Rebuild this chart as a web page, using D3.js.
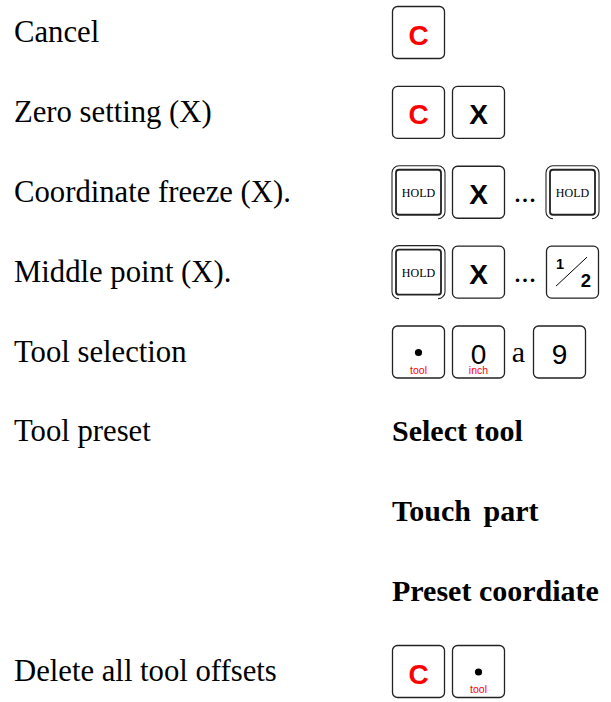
<!DOCTYPE html>
<html><head><meta charset="utf-8">
<script src="https://cdn.jsdelivr.net/npm/d3@7"></script>
<style>body{margin:0;background:#fff}svg{display:block}</style>
</head><body><svg id="c" width="611" height="702"></svg>
<script>
// ---- data ----
const rowLabels = ["Cancel","Zero setting (X)","Coordinate freeze (X).","Middle point (X).","Tool selection","Tool preset","","","Delete all tool offsets"];
const rowKeys = [
  ["C"],
  ["C","X"],
  ["HOLD","X","...","HOLD"],
  ["HOLD","X","...","1/2"],
  ["•","0","a","9"],
  [],[],[],
  ["C","•"]
];
const stepTexts = ["","","","","","Select tool","Touch part","Preset coordiate",""];
const keySubLabels = {"•":"tool","0":"inch"};
const redKeys = ["C"];
const boldKeys = ["C","X"];
const separators = ["...","a"];

// ---- layout ----
const W = 611, H = 702;
const svg = d3.select("#c");
svg.append("rect").attr("width",W).attr("height",H).attr("fill","#fff");
const y = d3.scaleLinear().domain([0, rowLabels.length-1]).range([42, 681]);
const serif = "'Liberation Serif','Times New Roman',serif";
const sans = "'Liberation Sans',Arial,sans-serif";
const keyW = 52, keyH = 52, gap = 8, sepW = {"...":26, "a":13};
const keyX0 = 392, labelX = 14;
const RED = "#ff0000";

const rows = svg.selectAll("g.row").data(rowLabels.map((l,i)=>({label:l,keys:rowKeys[i],step:stepTexts[i],i})))
  .join("g").attr("class","row");

rows.append("text").attr("x",labelX).attr("y",d=>y(d.i))
  .attr("font-family",serif).attr("font-size",30.7).attr("fill","#000")
  .text(d=>d.label);

rows.append("text").attr("x",keyX0).attr("y",d=>y(d.i))
  .attr("font-family",serif).attr("font-weight","bold").attr("font-size",30).attr("fill","#000")
  .attr("word-spacing",d=>d.step==="Touch part"?5:0)
  .text(d=>d.step);

rows.each(function(d){
  const g = d3.select(this);
  const base = y(d.i);
  const top = base - 36;
  let cx = keyX0;
  d.keys.forEach((k,j)=>{
    if (separators.includes(k)) {
      const w = sepW[k];
      const x = cx - gap + (w + 2*gap)/2;
      g.append("text").attr("x",x).attr("y",base).attr("text-anchor","middle")
        .attr("font-family",serif).attr("font-size",30).attr("fill","#000").text(k);
      cx += w + gap;
      return;
    }
    const kg = g.append("g").attr("transform",`translate(${cx},${top})`);
    if (k === "HOLD") {
      const w = 53, h = 53, r = 7;
      kg.append("path").attr("fill","none").attr("stroke","#222").attr("stroke-width",1.1)
        .attr("d",`M${r},${h} A${r},${r} 0 0 1 0,${h-r} L0,${r} A${r},${r} 0 0 1 ${r},0 L${w-r},0 A${r},${r} 0 0 1 ${w},${r} L${w},${h-r} A${r},${r} 0 0 1 ${w-r},${h}`);
      kg.append("rect").attr("x",4).attr("y",4).attr("width",w-8).attr("height",h-8).attr("rx",3)
        .attr("fill","#fff").attr("stroke","#222").attr("stroke-width",1.8);
      kg.append("text").attr("x",w/2).attr("y",31.5).attr("text-anchor","middle")
        .attr("font-family",serif).attr("font-size",12).attr("fill","#000").text("HOLD");
    } else {
      kg.append("rect").attr("x",0.5).attr("y",0.5).attr("width",keyW).attr("height",keyH).attr("rx",5)
        .attr("fill","#fff").attr("stroke","#222").attr("stroke-width",1.3);
      if (k === "1/2") {
        kg.append("line").attr("x1",10).attr("y1",40.5).attr("x2",41).attr("y2",11.5)
          .attr("stroke","#000").attr("stroke-width",1);
        kg.append("text").attr("x",14).attr("y",23.7).attr("text-anchor","middle")
          .attr("font-family",sans).attr("font-weight","bold").attr("font-size",14.5).text("1");
        kg.append("text").attr("x",40).attr("y",41.7).attr("text-anchor","middle")
          .attr("font-family",sans).attr("font-weight","bold").attr("font-size",18.5).text("2");
      } else if (k === "•") {
        kg.append("circle").attr("cx",26.5).attr("cy",27).attr("r",3.6).attr("fill","#000");
      } else {
        kg.append("text").attr("x",26.5).attr("y", boldKeys.includes(k) ? 38.5 : 38)
          .attr("text-anchor","middle").attr("font-family",sans)
          .attr("font-weight",boldKeys.includes(k)?"bold":"normal")
          .attr("font-size",28).attr("fill",redKeys.includes(k)?RED:"#000").text(k);
      }
      if (keySubLabels[k]) {
        kg.append("text").attr("x",26.5).attr("y",48).attr("text-anchor","middle")
          .attr("font-family",sans).attr("font-size",10.5).attr("fill",RED).text(keySubLabels[k]);
      }
    }
    cx += keyW + gap;
  });
});
</script></body></html>
